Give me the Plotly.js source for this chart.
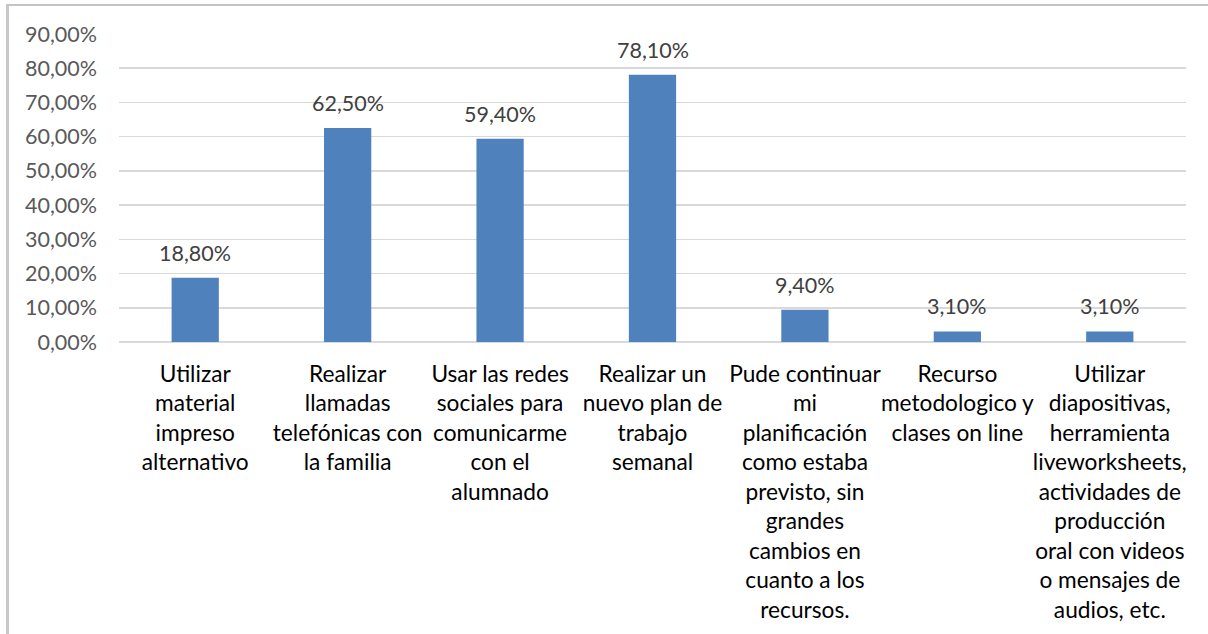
<!DOCTYPE html>
<html>
<head>
<meta charset="utf-8">
<script src="https://cdn.plot.ly/plotly-3.0.1.min.js"></script>
<style>
  html, body { margin: 0; padding: 0; background: #fff; }
  #frame { position: absolute; left: 6px; top: 4px; width: 1300px; height: 700px;
           border-left: 3px solid #c8c8c8; border-top: 2px solid #c3c3c3; pointer-events: none; z-index: 5; }
  #chart { position: absolute; left: 0; top: 0; width: 1208px; height: 634px; }
</style>
</head>
<body>
<div id="chart"></div>
<div id="frame"></div>
<script>
const categories = [
  "Utilizar<br>material<br>impreso<br>alternativo",
  "Realizar<br>llamadas<br>telefónicas con<br>la familia",
  "Usar las redes<br>sociales para<br>comunicarme<br>con el<br>alumnado",
  "Realizar un<br>nuevo plan de<br>trabajo<br>semanal",
  "Pude continuar<br>mi<br>planificación<br>como estaba<br>previsto, sin<br>grandes<br>cambios en<br>cuanto a los<br>recursos.",
  "Recurso<br>metodologico y<br>clases on line",
  "Utilizar<br>diapositivas,<br>herramienta<br>liveworksheets,<br>actividades de<br>producción<br>oral con videos<br>o mensajes de<br>audios, etc."
];
const values = [0.188, 0.625, 0.594, 0.781, 0.094, 0.031, 0.031];
const tickValues = [0, 0.1, 0.2, 0.3, 0.4, 0.5, 0.6, 0.7, 0.8, 0.9];

const FONT = "Lato, 'Open Sans', sans-serif";

const trace = {
  type: 'bar',
  x: categories,
  y: values,
  marker: { color: '#4f81bd' },
  hoverinfo: 'none'
};

const fmt = v => (v * 100).toFixed(2).replace('.', ',') + '%';
const annotations = categories.map((c, i) => ({
  x: c, y: values[i], xref: 'x', yref: 'y',
  text: fmt(values[i]),
  font: { family: FONT, size: 21.5, color: '#404040' },
  showarrow: false, yanchor: 'bottom', yshift: 10
}));

const layout = {
  width: 1208, height: 634,
  margin: { l: 119, r: 22, t: 34, b: 292 },
  paper_bgcolor: '#fff', plot_bgcolor: '#fff',
  separators: ',.',
  bargap: 0.69,
  showlegend: false,
  font: { family: FONT },
  xaxis: {
    type: 'category',
    showgrid: false, zeroline: false, showline: false, ticks: '',
    tickfont: { family: FONT, size: 22.7, color: '#000' },
    tickangle: 0,
    ticklabelstandoff: 16,
    fixedrange: true
  },
  yaxis: {
    range: [0, 0.9],
    tickvals: tickValues,
    tickformat: '.2%',
    showgrid: true, gridcolor: '#d9d9d9', gridwidth: 1.5,
    zeroline: true, zerolinecolor: '#d9d9d9', zerolinewidth: 1.5,
    showline: false, ticks: '',
    tickfont: { family: FONT, size: 21.5, color: '#595959' },
    ticklabelstandoff: 21,
    fixedrange: true
  },
  annotations: annotations
};

Plotly.newPlot('chart', [trace], layout, { displayModeBar: false, staticPlot: true });
</script>
</body>
</html>
